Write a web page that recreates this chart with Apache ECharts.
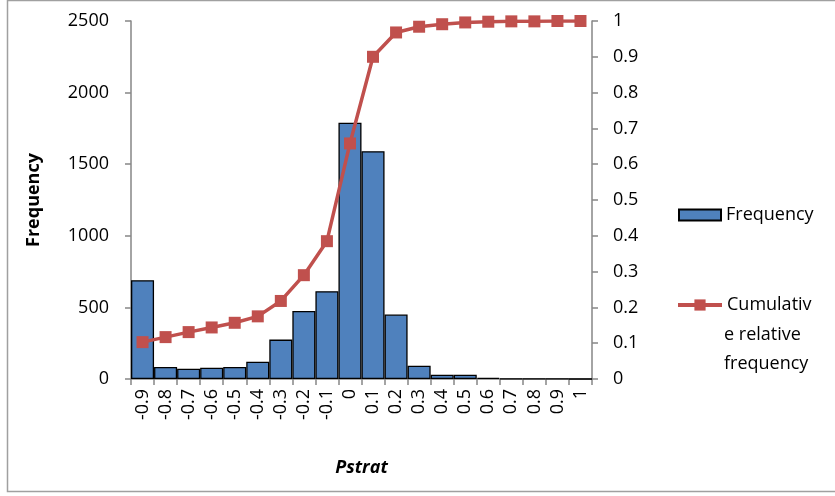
<!DOCTYPE html>
<html><head><meta charset="utf-8">
<script src="https://cdn.jsdelivr.net/npm/echarts@6/dist/echarts.min.js"></script>
<style>html,body{margin:0;padding:0;background:#fff}#c{width:835px;height:496px}</style>
</head><body><div id="c"></div>
<script>
const categories = ['-0.9','-0.8','-0.7','-0.6','-0.5','-0.4','-0.3','-0.2','-0.1','0','0.1','0.2','0.3','0.4','0.5','0.6','0.7','0.8','0.9','1'];
const frequency = [690, 84, 72, 79, 84, 121, 275, 475, 613, 1789, 1591, 450, 93, 30, 30, 8, 2, 1, 1, 0];
const cumulative = [0.103, 0.117, 0.131, 0.144, 0.157, 0.175, 0.218, 0.290, 0.385, 0.658, 0.900, 0.968, 0.984, 0.991, 0.996, 0.998, 0.999, 0.999, 1.0, 1.0];
const leftTicks = {min: 0, max: 2500, interval: 500};
const rightTicks = {min: 0, max: 1, interval: 0.1};
const legendLines = ['Cumulativ', 'e relative', 'frequency'];

const FONT = '"Open Sans", sans-serif';
const AX = '#868686';
const chart = echarts.init(document.getElementById('c'), null, {renderer: 'canvas'});
chart.setOption({
  animation: false,
  textStyle: {fontFamily: FONT},
  graphic: [
    {type: 'rect', shape: {x: 7.5, y: 0.5, width: 835, height: 491}, style: {fill: 'none', stroke: '#a0a0a0', lineWidth: 1.5}, silent: true},
    {type: 'text', left: 724, top: 320, silent: true,
     style: {text: legendLines.slice(1).join('\n'), fontSize: 18, lineHeight: 29, fill: '#000', fontFamily: FONT}}
  ],
  grid: {left: 131, right: 243, top: 21, bottom: 117},
  legend: [
    {data: [{name: 'Frequency', icon: 'rect'}], left: 673, top: 201, itemWidth: 42, itemHeight: 11, itemGap: 5,
     textStyle: {fontSize: 18, color: '#000', fontFamily: FONT}},
    {data: ['Cumulative relative frequency'], left: 671, top: 291, itemWidth: 44, itemHeight: 14, itemGap: 4,
     formatter: () => legendLines[0],
     lineStyle: {width: 4},
     textStyle: {fontSize: 18, color: '#000', fontFamily: FONT}}
  ],
  xAxis: {
    type: 'category', data: categories, boundaryGap: true,
    axisLine: {lineStyle: {color: AX, width: 1.5}},
    axisTick: {show: true, length: 6, lineStyle: {color: AX, width: 1.5}},
    axisLabel: {rotate: 90, fontSize: 18, color: '#000', margin: 10, fontFamily: FONT, interval: 0},
    name: 'Pstrat', nameLocation: 'middle', nameGap: 80,
    nameTextStyle: {fontSize: 18, fontWeight: 'bold', fontStyle: 'italic', color: '#000', fontFamily: FONT}
  },
  yAxis: [
    {type: 'value', min: leftTicks.min, max: leftTicks.max, interval: leftTicks.interval,
     axisLine: {show: true, lineStyle: {color: AX, width: 1.5}},
     axisTick: {show: true, length: 6, lineStyle: {color: AX, width: 1.5}},
     splitLine: {show: false},
     axisLabel: {fontSize: 18, color: '#000', margin: 22, fontFamily: FONT, formatter: v => String(v)},
     name: 'Frequency', nameLocation: 'middle', nameGap: 88, nameRotate: 90,
     nameTextStyle: {fontSize: 18, fontWeight: 'bold', color: '#000', fontFamily: FONT}},
    {type: 'value', position: 'right', min: rightTicks.min, max: rightTicks.max, interval: rightTicks.interval,
     axisLine: {show: true, lineStyle: {color: AX, width: 1.5}},
     axisTick: {show: true, length: 6, lineStyle: {color: AX, width: 1.5}},
     splitLine: {show: false},
     axisLabel: {fontSize: 18, color: '#000', margin: 21, fontFamily: FONT, formatter: v => String(+v.toFixed(1))}}
  ],
  series: [
    {name: 'Frequency', type: 'bar', data: frequency, barCategoryGap: '0%',
     itemStyle: {color: '#4F81BD', borderColor: '#000', borderWidth: 1.3}},
    {name: 'Cumulative relative frequency', type: 'line', yAxisIndex: 1, data: cumulative,
     symbol: 'rect', symbolSize: 12, showSymbol: true,
     lineStyle: {color: '#C0504D', width: 3.5}, itemStyle: {color: '#C0504D'}}
  ]
});
</script></body></html>
